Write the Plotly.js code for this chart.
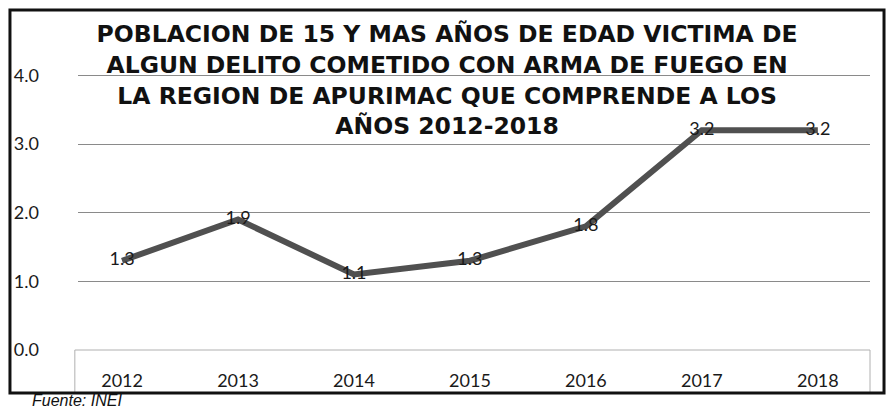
<!DOCTYPE html>
<html><head><meta charset="utf-8">
<script src="https://cdn.plot.ly/plotly-3.0.1.min.js"></script>
<style>body{margin:0;background:#fff}</style>
</head><body>
<div id="chart" style="width:889px;height:412px"></div>
<script>
const years = ['2012','2013','2014','2015','2016','2017','2018'];
const values = [1.3, 1.9, 1.1, 1.3, 1.8, 3.2, 3.2];
const valueLabels = ['1.3','1.9','1.1','1.3','1.8','3.2','3.2'];
const yTicks = [0, 1, 2, 3, 4];
const yTickLabels = ['0.0','1.0','2.0','3.0','4.0'];
const titleLines = ['POBLACION DE 15 Y MAS AÑOS DE EDAD VICTIMA DE','ALGUN DELITO COMETIDO CON ARMA DE FUEGO EN','LA REGION DE APURIMAC QUE COMPRENDE A LOS','AÑOS 2012-2018'];

const bodyFont = 'Lato, Roboto, sans-serif';

const trace = {
  x: years, y: values, text: valueLabels,
  type: 'scatter', mode: 'lines+text',
  line: {color: '#505050', width: 6},
  textposition: 'middle center',
  textfont: {family: bodyFont, size: 18, color: '#1a1a1a'},
  hoverinfo: 'skip', showlegend: false, cliponaxis: false
};

const layout = {
  width: 889, height: 412,
  margin: {l: 78, r: 19, t: 41, b: 62},
  paper_bgcolor: '#ffffff', plot_bgcolor: '#ffffff',
  title: {
    text: titleLines.join('<br>'),
    font: {family: 'DejaVu Sans, sans-serif', size: 23.5, color: '#111', weight: 'bold'},
    x: 0.466, xanchor: 'center', xref: 'paper',
    yref: 'container', y: 0.897, yanchor: 'top'
  },
  xaxis: {
    type: 'category', range: [-0.38, 6.45],
    showgrid: false, zeroline: false, showline: false,
    ticks: '', ticklabelstandoff: 18,
    tickfont: {family: bodyFont, size: 18, color: '#1a1a1a'}
  },
  yaxis: {
    range: [0, 4.5], tickvals: yTicks, ticktext: yTickLabels,
    showgrid: true, gridcolor: '#8a8a8a', gridwidth: 1,
    zeroline: false, showline: false, ticks: '', ticklabelstandoff: 38,
    tickfont: {family: bodyFont, size: 18, color: '#1a1a1a'}
  },
  shapes: [
    {type: 'rect', xref: 'paper', yref: 'paper', x0: -0.004, x1: 1.0, y0: -0.14, y1: 0,
     line: {color: '#b0b0b0', width: 1}},
    {type: 'rect', xref: 'paper', yref: 'paper', x0: -0.0859, x1: 1.0177, y0: -0.139, y1: 1.100,
     line: {color: '#111', width: 3}}
  ],
  annotations: [
    {text: '<i>Fuente: INEI</i>', xref: 'paper', yref: 'paper', x: -0.061, y: -0.165,
     xanchor: 'left', yanchor: 'middle', showarrow: false,
     font: {family: 'Liberation Sans, Arial, sans-serif', size: 16, color: '#111'}}
  ]
};

Plotly.newPlot('chart', [trace], layout, {displayModeBar: false, staticPlot: true});
</script>
</body></html>
